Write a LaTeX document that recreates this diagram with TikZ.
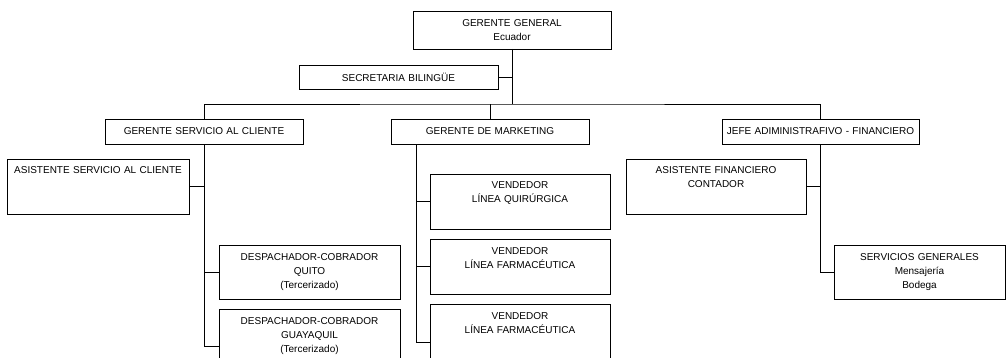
\documentclass[tikz,border=0pt]{standalone}
\usepackage{fontspec}
\setmainfont{Liberation Sans}
\usetikzlibrary{positioning}

\begin{document}
\begin{tikzpicture}[x=1pt,y=-1pt]
    \tikzset{
      orgbox/.style={rectangle,draw=black,line width=0.8pt,inner xsep=0pt,inner ysep=0pt,outer sep=0pt,align=center,anchor=north west,font=\fontsize{10}{14}\selectfont},
      topbox/.style={orgbox,inner ysep=4pt,text height=11pt},
      link/.style={draw=black,line width=0.8pt}
    }
    \useasboundingbox (0,0) rectangle (1006,358);
    \node[orgbox,text width=198pt,minimum height=38pt](gg) at (413,11){GERENTE GENERAL\\Ecuador};
    \node[orgbox,text width=199pt,minimum height=24pt](sec) at (299,65){SECRETARIA BILINGÜE};
    \node[orgbox,text width=198pt,minimum height=25pt](gsc) at (105,119){GERENTE SERVICIO AL CLIENTE};
    \node[orgbox,text width=198pt,minimum height=25pt](gm) at (391,119){GERENTE DE MARKETING};
    \node[orgbox,text width=197pt,minimum height=25pt](jefe) at (722,119){JEFE ADIMINISTRAFIVO - FINANCIERO};
    \node[topbox,text width=182pt,text depth=36pt](asc) at (7,159){ASISTENTE SERVICIO AL CLIENTE};
    \node[orgbox,text width=181pt,minimum height=54pt](dq) at (219,245){DESPACHADOR-COBRADOR\\QUITO\\(Tercerizado)};
    \node[topbox,text width=181pt,text depth=55pt,below=10pt of dq](dg){DESPACHADOR-COBRADOR\\GUAYAQUIL\\(Tercerizado)};
    \node[topbox,text width=180pt,text depth=36pt](v1) at (430,174){VENDEDOR\\LÍNEA QUIRÚRGICA};
    \node[topbox,text width=180pt,text depth=36pt,below=10pt of v1](v2){VENDEDOR\\LÍNEA FARMACÉUTICA};
    \node[topbox,text width=180pt,text depth=57pt,below=10pt of v2](v3){VENDEDOR\\LÍNEA FARMACÉUTICA};
    \node[topbox,text width=180pt,text depth=36pt](af) at (626,159){ASISTENTE FINANCIERO\\CONTADOR};
    \node[orgbox,text width=171pt,minimum height=54pt](sg) at (834,245){SERVICIOS GENERALES\\Mensajería\\Bodega};

    \coordinate (bus) at (512,104);
    \coordinate (mk) at ([xshift=25pt]gm.south west);

    \draw[link](gg.south) -- (bus);
    \draw[link](sec.east) -- (sec.east -| gg.south);
    \draw[link](gsc.north) |- (bus) -| (jefe.north);
    \draw[link](gm.north) -- (gm.north |- bus);
    \draw[link](dg.west) -| (gsc.south);
    \draw[link](asc.east) -- (asc.east -| gsc.south);
    \draw[link](dq.west) -- (dq.west -| gsc.south);
    \draw[link](v3.west) -| (mk);
    \draw[link](v1.west) -- (v1.west -| mk);
    \draw[link](v2.west) -- (v2.west -| mk);
    \draw[link](sg.west) -| (jefe.south);
    \draw[link](af.east) -- (af.east -| jefe.south);
\end{tikzpicture}
\end{document}
